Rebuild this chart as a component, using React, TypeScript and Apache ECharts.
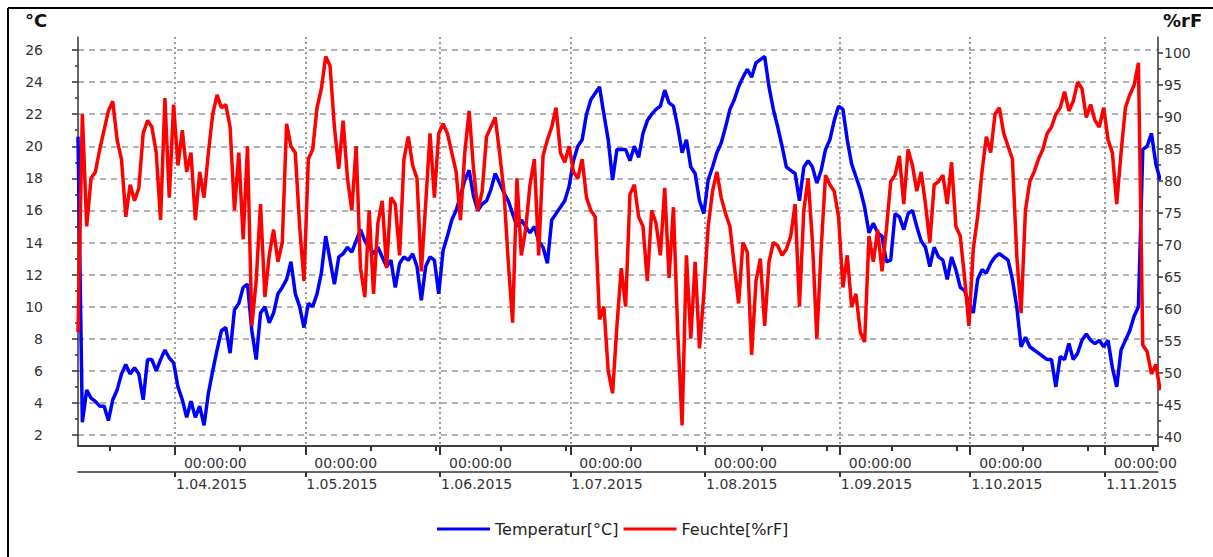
import React, { useEffect, useRef } from 'react';
import * as echarts from 'echarts';

// Time base: one sample per day starting here
const START_UTC = Date.UTC(2015, 2, 9, 17);
const DAY_MS = 86400000;
const SPAN_DAYS = 248.5;

const monthTickDates = [
  '2015-04-01', '2015-05-01', '2015-06-01', '2015-07-01',
  '2015-08-01', '2015-09-01', '2015-10-01', '2015-11-01',
];
const halfMonthTickDates = [
  '2015-03-17', '2015-04-01', '2015-04-16', '2015-05-01', '2015-05-16', '2015-05-31',
  '2015-06-15', '2015-06-30', '2015-07-15', '2015-07-30', '2015-08-14', '2015-08-29',
  '2015-09-13', '2015-09-28', '2015-10-13', '2015-10-28', '2015-11-12',
];

const seriesNames = ['Temperatur[°C]', 'Feuchte[%rF]'];

const temperature = [
  20.6, 2.8, 4.8, 4.3, 4.1, 3.8, 3.8, 2.9, 4.2, 4.8,
  5.8, 6.4, 5.8, 6.2, 5.8, 4.2, 6.7, 6.7, 6.0, 6.7,
  7.3, 6.8, 6.5, 5.0, 4.2, 3.1, 4.1, 3.1, 3.8, 2.6,
  4.6, 6.0, 7.3, 8.5, 8.7, 7.1, 9.8, 10.2, 11.2, 11.4,
  8.5, 6.7, 9.6, 10.0, 9.0, 9.6, 10.8, 11.2, 11.7, 12.8,
  10.8, 10.0, 8.7, 10.2, 10.0, 10.8, 12.1, 14.4, 12.9, 11.4,
  13.1, 13.3, 13.7, 13.4, 14.1, 14.8, 14.1, 13.7, 13.3, 13.7,
  13.1, 12.5, 12.9, 11.2, 12.7, 13.1, 12.9, 13.3, 12.5, 10.4,
  12.5, 13.1, 12.9, 10.8, 13.5, 14.4, 15.4, 16.0, 16.9, 17.9,
  18.5, 16.9, 16.0, 16.4, 16.6, 17.3, 18.3, 17.7, 17.1, 16.6,
  15.8, 15.0, 15.4, 15.0, 14.6, 15.0, 14.1, 13.7, 12.7, 15.4,
  15.8, 16.2, 16.6, 17.5, 19.1, 20.0, 20.4, 22.0, 22.9, 23.3,
  23.7, 22.0, 20.4, 17.9, 19.8, 19.8, 19.8, 19.1, 20.0, 19.3,
  20.8, 21.6, 22.0, 22.3, 22.5, 23.5, 22.7, 22.5, 21.2, 19.6,
  20.4, 18.7, 18.3, 16.6, 15.8, 17.9, 18.7, 19.6, 20.2, 21.2,
  22.3, 22.9, 23.7, 24.3, 24.8, 24.3, 25.2, 25.4, 25.6, 23.7,
  22.3, 21.2, 20.0, 18.7, 18.5, 18.3, 16.6, 18.7, 19.1, 18.7,
  17.7, 18.5, 19.8, 20.4, 21.6, 22.5, 22.3, 20.4, 18.9, 18.1,
  17.3, 16.2, 14.6, 15.2, 14.6, 14.4, 12.8, 12.9, 15.8, 15.6,
  14.8, 15.8, 16.0, 15.0, 14.1, 13.7, 12.5, 13.7, 13.1, 12.9,
  11.7, 13.1, 12.3, 11.2, 11.0, 10.2, 9.6, 11.7, 12.3, 12.1,
  12.7, 13.1, 13.3, 13.1, 12.9, 11.7, 10.0, 7.5, 8.1, 7.5,
  7.3, 7.1, 6.9, 6.7, 6.7, 5.0, 6.9, 6.7, 7.7, 6.7,
  7.1, 7.9, 8.3, 7.9, 7.7, 7.9, 7.5, 7.9, 6.2, 5.0,
  7.3, 7.9, 8.5, 9.4, 10.0, 19.8, 20.0, 20.8, 18.9, 17.9,
];

const humidity = [
  56.0, 90.0, 72.5, 80.0, 81.0, 84.5, 87.5, 90.5, 92.0, 86.0,
  83.0, 74.0, 79.0, 76.5, 78.5, 87.0, 89.0, 88.0, 84.0, 73.5,
  92.5, 77.0, 91.5, 82.0, 87.5, 81.0, 84.0, 73.5, 81.0, 77.0,
  84.0, 90.0, 93.0, 91.0, 91.5, 88.0, 75.0, 84.0, 70.5, 85.0,
  57.0, 64.0, 76.0, 61.5, 68.0, 72.0, 67.0, 70.0, 88.5, 85.0,
  84.0, 72.5, 64.0, 83.0, 84.5, 91.0, 94.0, 99.0, 97.5, 88.0,
  81.5, 89.0, 80.0, 75.0, 85.0, 66.0, 61.5, 75.0, 62.0, 73.0,
  76.5, 66.0, 77.0, 76.0, 68.0, 83.0, 86.5, 82.0, 80.0, 65.5,
  76.0, 87.0, 77.0, 87.0, 88.5, 87.0, 84.0, 81.0, 73.5, 84.0,
  90.5, 81.5, 75.0, 78.0, 86.5, 88.0, 89.5, 84.0, 78.0, 67.0,
  57.5, 80.0, 68.0, 72.0, 79.0, 83.0, 68.0, 83.5, 86.0, 88.0,
  91.0, 84.0, 82.5, 85.0, 81.0, 80.0, 83.0, 77.0, 75.0, 74.0,
  58.0, 60.0, 50.0, 46.5, 57.0, 66.0, 60.0, 77.5, 79.0, 74.0,
  72.5, 64.0, 75.0, 73.0, 68.0, 78.5, 64.5, 75.5, 56.0, 41.5,
  68.0, 55.0, 67.0, 53.5, 62.0, 72.5, 78.0, 81.0, 77.0, 74.5,
  72.5, 66.5, 60.5, 70.0, 68.5, 52.5, 64.0, 67.5, 57.0, 67.0,
  70.0, 69.5, 68.0, 69.0, 71.0, 76.0, 60.0, 75.0, 80.0, 70.0,
  55.0, 69.0, 80.5, 79.0, 78.0, 74.0, 63.0, 68.0, 60.0, 62.0,
  56.0, 54.5, 71.0, 67.0, 72.0, 65.5, 72.0, 79.5, 80.5, 83.5,
  76.0, 84.5, 82.0, 78.0, 81.0, 76.0, 70.0, 79.0, 79.5, 80.5,
  76.0, 82.5, 72.5, 71.0, 64.5, 57.0, 69.0, 74.0, 81.0, 86.5,
  84.0, 90.0, 91.0, 87.0, 85.0, 83.0, 68.0, 59.0, 75.0, 79.5,
  81.0, 83.0, 84.5, 87.0, 88.0, 90.0, 91.0, 93.5, 90.5, 92.0,
  95.0, 94.0, 89.5, 91.5, 89.0, 88.0, 91.0, 86.0, 84.0, 76.0,
  84.0, 91.0, 93.0, 94.5, 98.0, 54.0, 53.0, 49.5, 51.0, 47.0,
];

const FONT = 'DejaVu Sans';
const AXIS_COLOR = '#333';
const GRID_COLOR = '#999';
const TEXT_COLOR = '#333';

const toTime = (s: string) => Date.parse(s + 'T00:00:00Z');
const fmtDate = (v: number) => {
  const d = new Date(v);
  return `${d.getUTCDate()}.${String(d.getUTCMonth() + 1).padStart(2, '0')}.${d.getUTCFullYear()}`;
};

export default function App() {
  const ref = useRef<HTMLDivElement>(null);

  useEffect(() => {
    if (!ref.current) return;
    const chart = echarts.init(ref.current, undefined, { renderer: 'svg' });
    const xMin = START_UTC;
    const xMax = START_UTC + SPAN_DAYS * DAY_MS;
    const monthTicks = monthTickDates.map(toTime);
    const halfTicks = halfMonthTickDates.map(toTime);
    const tempData = temperature.map((v, i) => [START_UTC + i * DAY_MS, v]);
    const humData = humidity.map((v, i) => [START_UTC + i * DAY_MS, v]);

    const axisLineStyle = { color: AXIS_COLOR, width: 1.5 };
    const baseX = { type: 'value', min: xMin, max: xMax };

    const option: any = {
      animation: false,
      backgroundColor: '#fff',
      textStyle: { fontFamily: FONT },
      graphic: [
        { type: 'line', shape: { x1: 8, y1: 8, x2: 1213, y2: 8 }, style: { stroke: '#000', lineWidth: 2 } },
        { type: 'line', shape: { x1: 8, y1: 8, x2: 8, y2: 557 }, style: { stroke: '#000', lineWidth: 2 } },
        { type: 'text', left: 25, top: 11, style: { text: '°C', font: `bold 18px "${FONT}"`, fill: '#111' } },
        { type: 'text', left: 1163, top: 11, style: { text: '%rF', font: `bold 18px "${FONT}"`, fill: '#111' } },
      ],
      grid: [
        { left: 78, right: 55, top: 37, bottom: 111 },
        { left: 78, right: 55, top: 50, bottom: 122 },
        { left: 78, right: 55, top: 53, bottom: 120 },
      ],
      legend: {
        left: 432,
        top: 516,
        icon: 'rect',
        itemWidth: 53,
        itemHeight: 3,
        itemGap: 5,
        textStyle: { fontSize: 16, color: '#222', fontFamily: FONT },
        data: seriesNames,
      },
      xAxis: [
        {
          ...baseX, gridIndex: 0, position: 'bottom', offset: 0,
          axisLine: { show: true, onZero: false, lineStyle: axisLineStyle },
          axisTick: { show: true, customValues: monthTicks, length: 9, lineStyle: { color: AXIS_COLOR, width: 2 } },
          axisLabel: {
            show: true, customValues: monthTicks, formatter: () => '00:00:00',
            align: 'left', padding: [0, 0, 0, 9], margin: 10, fontSize: 14, color: TEXT_COLOR, fontFamily: FONT,
          },
          splitLine: { show: true, lineStyle: { type: [2, 3], color: GRID_COLOR, width: 2 } },
        },
        {
          ...baseX, gridIndex: 0, position: 'bottom', offset: 0,
          axisLine: { show: true, onZero: false, lineStyle: axisLineStyle },
          axisTick: { show: true, customValues: halfTicks, length: 5, lineStyle: { color: AXIS_COLOR, width: 2 } },
          axisLabel: { show: false },
          splitLine: { show: false },
        },
        {
          ...baseX, gridIndex: 0, position: 'bottom', offset: 26,
          axisLine: { show: true, onZero: false, lineStyle: axisLineStyle },
          axisTick: { show: true, customValues: monthTicks, length: 5, lineStyle: { color: AXIS_COLOR, width: 2 } },
          axisLabel: {
            show: true, customValues: monthTicks, formatter: (v: number) => fmtDate(v),
            align: 'left', padding: [0, 0, 0, 1], margin: 5, fontSize: 14, color: TEXT_COLOR, fontFamily: FONT,
          },
          splitLine: { show: false },
        },
        {
          ...baseX, gridIndex: 0, position: 'bottom', offset: 26,
          axisLine: { show: false },
          axisTick: { show: true, customValues: halfTicks, length: 3, lineStyle: { color: AXIS_COLOR, width: 2 } },
          axisLabel: { show: false },
          splitLine: { show: false },
        },
        { ...baseX, gridIndex: 1, show: false, splitLine: { show: false } },
        { ...baseX, gridIndex: 2, show: false, splitLine: { show: false } },
      ],
      yAxis: [
        {
          type: 'value', gridIndex: 0, position: 'left', min: 0, max: 1,
          axisLine: { show: true, onZero: false, lineStyle: axisLineStyle },
          axisTick: { show: false }, axisLabel: { show: false }, splitLine: { show: false },
        },
        {
          type: 'value', gridIndex: 0, position: 'right', min: 0, max: 1,
          axisLine: { show: true, onZero: false, lineStyle: axisLineStyle },
          axisTick: { show: false }, axisLabel: { show: false }, splitLine: { show: false },
        },
        {
          type: 'value', gridIndex: 1, position: 'left', min: 2, max: 26, interval: 2,
          axisLine: { show: false, onZero: false },
          axisTick: { show: true, inside: false, length: 6, lineStyle: { color: AXIS_COLOR, width: 1.5 } },
          minorTick: { show: true, splitNumber: 2, length: 3, lineStyle: { color: AXIS_COLOR, width: 1.5 } },
          axisLabel: { margin: 35, fontSize: 14, color: TEXT_COLOR, fontFamily: FONT },
          splitLine: { show: true, lineStyle: { type: [6, 5], color: GRID_COLOR, width: 1.5 } },
        },
        {
          type: 'value', gridIndex: 1, position: 'right', min: 40, max: 100, show: false,
          splitLine: { show: false },
        },
        {
          type: 'value', gridIndex: 2, position: 'right', min: 40, max: 100, interval: 5,
          axisLine: { show: false, onZero: false },
          axisTick: { show: true, inside: false, length: 5, lineStyle: { color: AXIS_COLOR, width: 1.5 } },
          minorTick: { show: true, splitNumber: 2, length: 3, lineStyle: { color: AXIS_COLOR, width: 1.5 } },
          axisLabel: { margin: 6, fontSize: 14, color: TEXT_COLOR, fontFamily: FONT },
          splitLine: { show: false },
        },
      ],
      series: [
        {
          name: seriesNames[0], type: 'line', xAxisIndex: 4, yAxisIndex: 2,
          data: tempData, symbol: 'none', showSymbol: false, clip: true,
          lineStyle: { color: '#0000ff', width: 3.5 }, itemStyle: { color: '#0000ff' },
        },
        {
          name: seriesNames[1], type: 'line', xAxisIndex: 4, yAxisIndex: 3,
          data: humData, symbol: 'none', showSymbol: false, clip: true,
          lineStyle: { color: '#ff0000', width: 3.5 }, itemStyle: { color: '#ff0000' },
        },
      ],
    };
    chart.setOption(option);
    return () => chart.dispose();
  }, []);

  return (
    <div style={{ position: 'absolute', left: 0, top: 0, width: 1213, height: 557, overflow: 'hidden', background: '#fff' }}>
      <div ref={ref} style={{ width: 1213, height: 557 }} />
    </div>
  );
}
